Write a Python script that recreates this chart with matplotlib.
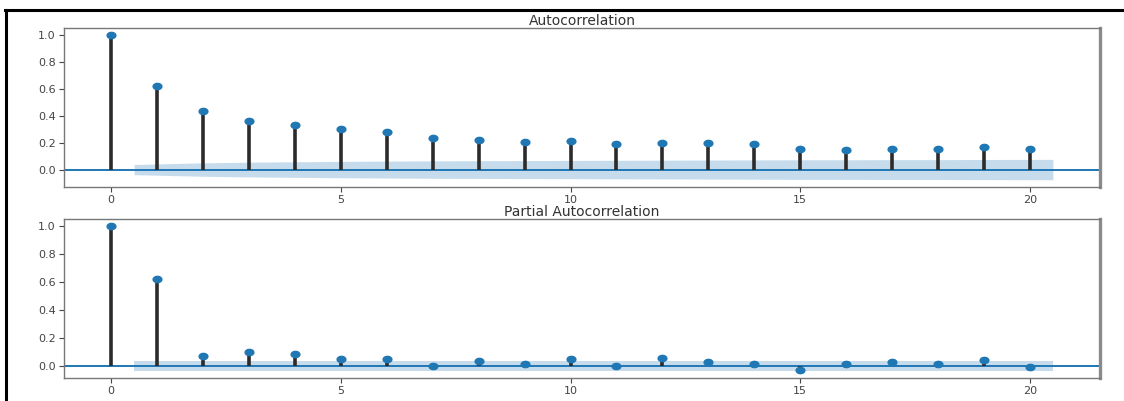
import numpy as np
import matplotlib
matplotlib.use("Agg")
import matplotlib.pyplot as plt
from matplotlib.path import Path
from matplotlib.lines import Line2D

# Lags and estimated correlation coefficients
lags = np.arange(0, 21)
acf_values = [1.000, 0.622, 0.439, 0.360, 0.330, 0.300, 0.277, 0.238, 0.221, 0.208,
              0.213, 0.189, 0.201, 0.201, 0.190, 0.154, 0.146, 0.154, 0.154, 0.171, 0.154]
pacf_values = [1.000, 0.623, 0.072, 0.096, 0.084, 0.048, 0.048, -0.004, 0.036, 0.014,
               0.048, -0.003, 0.055, 0.024, 0.010, -0.031, 0.014, 0.024, 0.014, 0.043, -0.010]

# 95% confidence half-widths for lags 1..20 (Bartlett for ACF, constant for PACF)
acf_conf = [0.038, 0.050, 0.055, 0.058, 0.061, 0.063, 0.065, 0.066, 0.067, 0.068,
            0.069, 0.070, 0.071, 0.072, 0.073, 0.073, 0.074, 0.074, 0.075, 0.076]
pacf_conf = [0.036] * 20

titles = ["Autocorrelation", "Partial Autocorrelation"]
x_ticks = [0, 5, 10, 15, 20]
y_ticks = [0.0, 0.2, 0.4, 0.6, 0.8, 1.0]

blue = "#1f77b4"

# slightly wide elliptical point marker
theta = np.linspace(0, 2 * np.pi, 60)
ellipse = Path(np.column_stack([1.4 * np.cos(theta), np.sin(theta)]), closed=True)

fig = plt.figure(figsize=(11.24, 4.01), dpi=100)
positions = [
    [64 / 1124, 1 - 187 / 401, (1100 - 64) / 1124, (187 - 28) / 401],
    [64 / 1124, 1 - 378 / 401, (1100 - 64) / 1124, (378 - 219) / 401],
]


def corr_panel(ax, values, conf, title):
    vals = np.asarray(values)
    ax.vlines(lags, 0, vals, colors="#2b2b2b", linewidth=2.6, zorder=2)
    ax.plot(lags, vals, linestyle="none", marker=ellipse, markersize=6.3,
            color=blue, zorder=3)
    ax.axhline(0, color=blue, linewidth=1.4, zorder=1)
    band_x = lags[1:].astype(float)
    band_x[0] -= 0.5
    band_x[-1] += 0.5
    c = np.asarray(conf)
    ax.fill_between(band_x, -c, c, color=blue, alpha=0.25, linewidth=0, zorder=0)
    ax.margins(0.05)
    ax.set_title(title, fontsize=10, color="#333333", pad=2)
    ax.set_xticks(x_ticks)
    ax.set_yticks(y_ticks)
    ax.set_yticklabels([f"{t:.1f}" for t in y_ticks])
    ax.tick_params(labelsize=8, colors="#444444", length=3.5, width=0.8, pad=2.5)
    for name, sp in ax.spines.items():
        sp.set_color("#777777")
        sp.set_linewidth(1.0)
    ax.spines["right"].set_linewidth(2.4)
    ax.spines["right"].set_color("#8a8a8a")


for pos, vals, conf, title in zip(positions, [acf_values, pacf_values],
                                  [acf_conf, pacf_conf], titles):
    ax = fig.add_axes(pos)
    corr_panel(ax, vals, conf, title)

# outer frame lines along the top and left edges
fig.add_artist(Line2D([5 / 1124, 1.0], [1 - 10 / 401, 1 - 10 / 401],
                      color="black", linewidth=2.2, transform=fig.transFigure))
fig.add_artist(Line2D([6 / 1124, 6 / 1124], [0.0, 1 - 10 / 401],
                      color="black", linewidth=2.2, transform=fig.transFigure))

fig.savefig("out.png", dpi=100)
